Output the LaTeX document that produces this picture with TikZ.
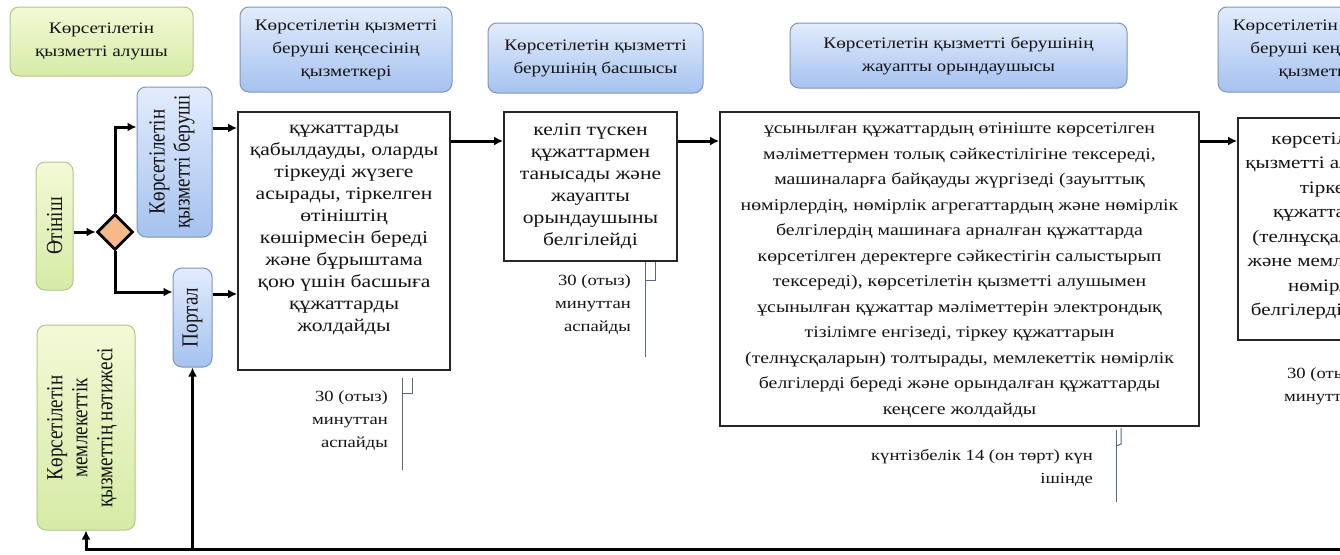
\documentclass[tikz,border=0pt]{standalone}
\usepackage{fontspec}
\setmainfont[FakeStretch=1.2]{Liberation Serif}
\newfontfamily\rotfont[FakeStretch=0.83]{Liberation Serif}
\usetikzlibrary{arrows.meta,shapes.geometric}
\definecolor{bluetop}{HTML}{E2ECFC}
\definecolor{bluebot}{HTML}{A6C2F0}
\definecolor{bluebd}{HTML}{7F96BC}
\definecolor{grntop}{HTML}{F3F9D6}
\definecolor{grnbot}{HTML}{D6EBA6}
\definecolor{grnbd}{HTML}{B2C78C}
\definecolor{diafill}{HTML}{F7B88A}
\definecolor{brkcol}{HTML}{5A6880}
\definecolor{txt}{HTML}{141414}
\begin{document}
\begin{tikzpicture}[x=1pt,y=-1pt,
  hblue/.style={draw=bluebd,line width=1pt,rounded corners=9pt,top color=bluetop,bottom color=bluebot},
  hgrn/.style={draw=grnbd,line width=1pt,rounded corners=9pt,top color=grntop,bottom color=grnbot},
  hdr/.style={align=center,text=txt,font=\fontsize{16}{23}\selectfont,inner sep=0pt},
  rot/.style={rotate=90,align=center,text=txt,font=\rotfont\fontsize{23}{25}\selectfont,inner sep=0pt},
  stepbox/.style={draw=black!85,line width=1.8pt,inner sep=0pt},
  btext/.style={align=center,text=txt,inner sep=0pt},
  tm/.style={align=right,anchor=east,text=txt,font=\fontsize{15.5}{23}\selectfont,inner sep=0pt},
  brkline/.style={draw=brkcol,line width=1pt},
  arr/.style={line width=3pt,-{Latex[length=9pt,width=9pt]}},
]
\clip (0,0) rectangle (1340,554);
\fill[white] (0,0) rectangle (1340,554);

% header boxes
\node[hgrn,hdr,minimum width=183,minimum height=69] (hA) at (101.5,41.5) {Көрсетілетін\\қызметті алушы};
\node[hblue,hdr,minimum width=212,minimum height=85] (hB) at (346,49.5) {Көрсетілетін қызметті\\беруші кеңсесінің\\қызметкері};
\node[hblue,hdr,minimum width=215,minimum height=70] (hC) at (595.5,58) {Көрсетілетін қызметті\\берушінің басшысы};
\node[hblue,hdr,minimum width=337,minimum height=65] (hD) at (958.5,55.5) {Көрсетілетін қызметті берушінің\\жауапты орындаушысы};
\node[hblue,hdr,minimum width=212,minimum height=85] (hE) at (1324,49.5) {Көрсетілетін қызметті\\беруші кеңсесінің\\қызметкері};

% left column
\node[hgrn,minimum width=37,minimum height=128] (app) at (54.5,226) {};
\node[rot] (appt) at (app) {Өтініш};
\node[diamond,draw=black,line width=2.8pt,fill=diafill,minimum width=36,minimum height=36,inner sep=0pt] (dia) at (115,232) {};
\node[hblue,minimum width=75,minimum height=150] (bv) at (174.5,162) {};
\node[rot] (bvt) at (172,162) {Көрсетілетін\\қызметті беруші};
\node[hblue,minimum width=39,minimum height=99] (portal) at (192.5,317.5) {};
\node[rot] (portalt) at (portal) {Портал};
\node[hgrn,minimum width=98,minimum height=205] (res) at (86,427.5) {};
\node[rot] (rest) at (82,428) {Көрсетілетін\\мемлекеттік\\қызметтің нәтижесі};

% process boxes
\node[stepbox,minimum width=212,minimum height=258] (b1) at (344,241) {};
\node[btext,font=\fontsize{18}{22}\selectfont] (b1t) at (344,230) {құжаттарды\\қабылдауды, оларды\\тіркеуді жүзеге\\асырады, тіркелген\\өтініштің\\көшірмесін береді\\және бұрыштама\\қою үшін басшыға\\құжаттарды\\жолдайды};
\node[stepbox,minimum width=173,minimum height=149] (b2) at (590.5,186.5) {};
\node[btext,font=\fontsize{18}{22}\selectfont] (b2t) at (590.5,186) {келіп түскен\\құжаттармен\\танысады және\\жауапты\\орындаушыны\\белгілейді};
\node[stepbox,minimum width=479,minimum height=314] (b3) at (959.5,269) {};
\node[btext,font=\fontsize{16.5}{25.5}\selectfont] (b3t) at (959.5,270) {ұсынылған құжаттардың өтініште көрсетілген\\мәліметтермен толық сәйкестілігіне тексереді,\\машиналарға байқауды жүргізеді (зауыттық\\нөмірлердің, нөмірлік агрегаттардың және нөмірлік\\белгілердің машинаға арналған құжаттарда\\көрсетілген деректерге сәйкестігін салыстырып\\тексереді), көрсетілетін қызметті алушымен\\ұсынылған құжаттар мәліметтерін электрондық\\тізілімге енгізеді, тіркеу құжаттарын\\(телнұсқаларын) толтырады, мемлекеттік нөмірлік\\белгілерді береді және орындалған құжаттарды\\кеңсеге жолдайды};
\node[stepbox,minimum width=212,minimum height=222] (b4) at (1344,229) {};
\node[btext,font=\fontsize{17.5}{24.5}\selectfont] (b4t) at (1327,226) {көрсетілетін\\қызметті алушыға\\тіркеу\\құжаттарын\\(телнұсқаларын)\\және мемлекеттік\\нөмірлік\\белгілерді береді};

% timing notes
\node[tm] (t1) at (388,421) {30 (отыз)\\минуттан\\аспайды};
\draw[brkline] (402,378) -- (402,470);
\draw[brkline] (402,393) -- (412,393) -- (412,378);
\node[tm] (t2) at (631,305) {30 (отыз)\\минуттан\\аспайды};
\draw[brkline] (645,262) -- (645,357);
\draw[brkline] (645,280) -- (655,280) -- (655,262);
\node[tm] (t3) at (1093,467.5) {күнтізбелік 14 (он төрт) күн\\ішінде};
\draw[brkline] (1116,430) -- (1116,502);
\draw[brkline] (1116,446) -- (1121,444) -- (1121,428);
\node[tm] (t4) at (1360,386.5) {30 (отыз)\\минуттан};

% connectors
\draw[arr] (app.east |- dia.west) -- (dia.west);
\draw[arr] (dia.north) |- (bv.west |- 0,127);
\draw[arr] (dia.south) |- (portal.west |- 0,292);
\draw[arr] (bv.east |- 0,128) -- (b1.west |- 0,128);
\draw[arr] (portal.east |- 0,294) -- (b1.west |- 0,294);
\draw[arr] (b1.east |- 0,141) -- (b2.west |- 0,141);
\draw[arr] (b2.east |- 0,141) -- (b3.west |- 0,141);
\draw[arr] (b3.east |- 0,141) -- (b4.west |- 0,141);
\coordinate (fb) at (1350,549);
\draw[arr] (fb) -| (res.south);
\draw[arr] (portal.south |- fb) -- (portal.south);
\end{tikzpicture}
\end{document}
